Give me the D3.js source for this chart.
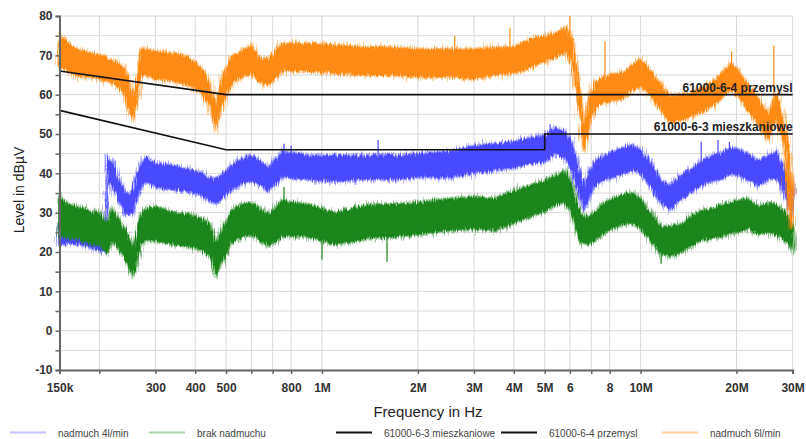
<!DOCTYPE html>
<html>
<head>
<meta charset="utf-8">
<script src="https://cdn.jsdelivr.net/npm/d3@7/dist/d3.min.js"></script>
<style>
  html, body { margin: 0; padding: 0; background: #fff; }
  svg { display: block; font-family: "Liberation Sans", Arial, sans-serif; }
</style>
</head>
<body>
<div id="viz"></div>
<script>
// sample frequencies (Hz) shared by the three measured spectra
const freqs = [150e3,155e3,160e3,170e3,180e3,190e3,200e3,209e3,212e3,220e3,230e3,240e3,248e3,255e3,262e3,270e3,280e3,300e3,
  340e3,380e3,420e3,445e3,465e3,485e3,520e3,560e3,600e3,640e3,680e3,750e3,900e3,1.1e6,1.4e6,1.7e6,2e6,2.5e6,3e6,3.5e6,
  4e6,4.5e6,5e6,5.4e6,5.8e6,6.1e6,6.3e6,6.5e6,6.65e6,6.9e6,7.2e6,7.7e6,8.2e6,8.8e6,9.4e6,10e6,10.7e6,11.6e6,12.4e6,
  13.4e6,14.4e6,15.5e6,16.7e6,17.9e6,19.3e6,20.2e6,21.7e6,23.4e6,25.2e6,26.7e6,28.4e6,29.3e6,29.7e6,30e6];

// nadmuch 6l/min (orange) - lower / upper edge of the noise band, dBuV
const orangeLo = [67,66.5,66,65,64.5,64.5,64,63.5,63.5,63,62,60,56,54,58,65,65,64,63.5,62.5,60.5,56.5,51.5,57,63,64.5,
  65.5,63,62.5,66,66,65.5,65,65,64.5,64.5,64,65,65.5,67,68.5,69.5,71,68,61,53,45.5,52,57,58,58.5,59,61,62,60,56,53,
  53.5,54.5,55.5,57,59,61.5,60,56,52.5,48.5,54,46,30,26,30];
const orangeHi = [75,74,73,71.5,71,70.5,70,69.5,69,68.5,68,66.5,63,59,64,71.5,71.5,71,70.5,69.5,66.5,62.5,57,64,69.5,71,
  72.5,69,69,73,73,72.5,72,72,71.5,71.5,71.5,72,72,74,75,75.5,77,74,67,59,51,59,63,64.5,65,65.5,67.5,69,66,62.5,59.5,
  60,60.5,61.5,63,65,68,66,62.5,59,55,60,52,45,36,40];

// nadmuch 4l/min (blue)
const blueLo = [22,22,22.5,22,21.5,21,20.5,20,38,37,33,30,29.5,30,33.5,36.5,38,36.5,36,35.5,34.5,33,32.5,33.5,36,37.5,
  38,37,35.5,39,38.5,38,38.5,38.5,39,39,40,41,41.5,42.5,43,45,44,40.5,36.5,33,31,34,37,38.5,39,40,41,40,37,32.5,31,
  33.5,35,37,38,38.5,40,39.5,38.5,37,38.5,39,34.5,31.5,30,30.5];
const blueHi = [27,27,27.5,26.5,26,26,25.5,25,44,43,38.5,35,34.5,36,39.5,42,44,42.5,42,41,40,38.5,38.5,39.5,42,43.5,
  44.5,43,41.5,45.5,44.5,44.5,44.5,44.5,45,45.5,47,47.5,48,49,49.5,51.5,50.5,47,43,39,36.5,40.5,43,44.5,45.5,46.5,47,
  46,43,38,37,39.5,41,43,44.5,45,46.5,46,45,43,44.5,45.5,40.5,37,35.5,36];

// brak nadmuchu (green)
const greenLo = [24,24,23.5,23.5,22.5,22,22,20,20,23,21,18.5,16,14,16.5,22,23,23,22,21.5,20.5,19,14.5,17.5,22.5,24,
  24.5,23,21.5,24,24,22,23.5,24,24.5,25.5,26,25.5,27.5,29,30.5,32,32.5,29.5,25.5,22.5,22,22,23,25,26,27,27.5,26,23,
  19.5,19,20,21.5,23,23.5,24,25,25,26,24.5,25,24.5,23,22,21,20.5];
const greenHi = [34,33,32,31.5,31,30,30,27.5,27.5,31,28.5,26,23.5,21,24,30,31,31.5,30,29.5,28.5,27,22,25.5,30.5,32,
  32.5,31,29.5,33,32,30,32,32,32.5,33.5,34,33.5,35.5,37,38,39.5,40.5,37,32.5,29.5,29,29,30,32.5,33.5,34.5,35,33.5,30,
  26.5,26.5,27,29,30.5,31,32,32.5,33,33.5,31.5,32.5,32,30,28.5,27.5,26.5];

// single spikes sticking out of the bands: [freq, from, to]
const orangeSpikes = [[2.61e6,71,75],[3.89e6,71.5,77],[6.0e6,75,80],[7.73e6,64,73.5],[19.3e6,67,71],[26.2e6,58,72.5]];
const blueSpikes = [[760e3,44,47.5],[800e3,44,47],[1.5e6,44,48.5],[5.2e6,50,52.5],[15.5e6,42,48],[17.5e6,44,48.5],[19e6,45,48]];
const greenSpikes = [[150e3,33,37.5],[760e3,32,36.5],[1e6,24,18],[1.6e6,24,17.5],[11.6e6,20,17]];

// limit lines
const limit63 = [[150e3,56],[500e3,46],[5e6,46],[5e6,50],[30e6,50]];
const limit64 = [[150e3,66],[500e3,60],[30e6,60]];

// axes
const xTickVals = [150e3,300e3,400e3,500e3,800e3,1e6,2e6,3e6,4e6,5e6,6e6,8e6,10e6,20e6,30e6];
const xTickLabels = ["150k","300","400","500","800","1M","2M","3M","4M","5M","6","8","10M","20M","30M"];
const xGridVals = [150e3,200e3,300e3,400e3,500e3,600e3,700e3,800e3,1e6,2e6,3e6,4e6,5e6,6e6,7e6,8e6,10e6,20e6,30e6];
const yTickVals = [-10,0,10,20,30,40,50,60,70,80];
const yGridVals = [-10,-5,0,5,10,15,20,25,30,35,40,45,50,55,60,65,70,75,80];

const legendItems = [
  { name: "nadmuch 4l/min", color: "#c4c4ff" },
  { name: "brak nadmuchu", color: "#a9d6a9" },
  { name: "61000-6-3 mieszkaniowe", color: "#111" },
  { name: "61000-6-4 przemysl", color: "#111" },
  { name: "nadmuch 6l/min", color: "#ffcf9e" }
];
const legendX = [10, 149, 336, 501, 662];

const width = 806, height = 439;
const plot = { left: 59.5, right: 792.6, top: 16, bottom: 370 };

const svg = d3.select('#viz').append('svg')
  .attr('width', width)
  .attr('height', height);

const x = d3.scaleLog().domain([150e3, 30e6]).range([plot.left, plot.right]);
const y = d3.scaleLinear().domain([-10, 80]).range([plot.bottom, plot.top]);

// texture filters for the noisy measurement bands
const defs = svg.append('defs');
function jitter(id, seed, freq, scale) {
  const f = defs.append('filter').attr('id', id)
    .attr('x', '-2%').attr('y', '-40%').attr('width', '104%').attr('height', '180%');
  f.append('feTurbulence').attr('type', 'fractalNoise').attr('baseFrequency', freq)
    .attr('numOctaves', 2).attr('seed', seed).attr('result', 'n');
  f.append('feDisplacementMap').attr('in', 'SourceGraphic').attr('in2', 'n')
    .attr('scale', scale).attr('xChannelSelector', 'R').attr('yChannelSelector', 'G');
}
jitter('jitter', 4, '0.9 0.06', 8);
jitter('fringe', 11, '1.2 0.04', 14);

// grid
const grid = svg.append('g');
grid.selectAll('.hg').data(yGridVals).enter().append('line')
  .attr('x1', plot.left).attr('x2', plot.right)
  .attr('y1', d => y(d)).attr('y2', d => y(d))
  .attr('stroke', '#d8d8d8').attr('stroke-width', 1);
grid.selectAll('.vg').data(xGridVals).enter().append('line')
  .attr('x1', d => x(d)).attr('x2', d => x(d))
  .attr('y1', plot.top).attr('y2', plot.bottom)
  .attr('stroke', '#d8d8d8').attr('stroke-width', 1);

// spectra bands
const idx = d3.range(freqs.length);
const series = [
  { lo: blueLo, hi: blueHi, spikes: blueSpikes, color: '#4a4aff' },
  { lo: greenLo, hi: greenHi, spikes: greenSpikes, color: '#1a861a' },
  { lo: orangeLo, hi: orangeHi, spikes: orangeSpikes, color: '#ff8a12' }
];

series.forEach(s => {
  const area = d3.area()
    .x(i => x(freqs[i]))
    .y0(i => y(s.lo[i]))
    .y1(i => y(s.hi[i]));
  // light fuzzy fringe
  svg.append('g').attr('filter', 'url(#fringe)')
    .append('path')
    .attr('d', area(idx))
    .attr('fill', s.color).attr('fill-opacity', 0.35)
    .attr('stroke', s.color).attr('stroke-opacity', 0.3)
    .attr('stroke-width', 4);
  // dense core
  svg.append('g').attr('filter', 'url(#jitter)')
    .append('path')
    .attr('d', area(idx))
    .attr('fill', s.color)
    .attr('stroke', s.color)
    .attr('stroke-opacity', 0.45)
    .attr('stroke-width', 2.5);
  svg.append('g').selectAll('line').data(s.spikes).enter().append('line')
    .attr('x1', d => x(d[0])).attr('x2', d => x(d[0]))
    .attr('y1', d => y(d[1])).attr('y2', d => y(d[2]))
    .attr('stroke', s.color).attr('stroke-width', 1.2);
});

// limit lines
const limLine = d3.line().x(d => x(d[0])).y(d => y(d[1]));
[limit63, limit64].forEach(l => {
  svg.append('path').attr('d', limLine(l))
    .attr('fill', 'none').attr('stroke', '#111').attr('stroke-width', 1.6);
});

svg.append('text').attr('x', plot.right).attr('y', y(60) - 3)
  .attr('text-anchor', 'end').attr('font-size', 12).attr('font-weight', 'bold').attr('fill', '#222')
  .text('61000-6-4 przemysl');
svg.append('text').attr('x', plot.right).attr('y', y(50) - 3)
  .attr('text-anchor', 'end').attr('font-size', 12).attr('font-weight', 'bold').attr('fill', '#222')
  .text('61000-6-3 mieszkaniowe');

// axes
const yAxis = svg.append('g')
  .attr('transform', `translate(${plot.left},0)`)
  .call(d3.axisLeft(y).tickValues(yGridVals).tickSize(4).tickPadding(3)
    .tickFormat(d => yTickVals.includes(d) ? d : ''));
const xAxis = svg.append('g')
  .attr('transform', `translate(0,${plot.bottom})`)
  .call(d3.axisBottom(x).tickValues(xGridVals).tickSize(4).tickPadding(9)
    .tickFormat(d => {
      const k = xTickVals.indexOf(d);
      return k >= 0 ? xTickLabels[k] : '';
    }));

[yAxis, xAxis].forEach(a => {
  a.select('.domain').attr('stroke', '#666').attr('stroke-width', 2);
  a.selectAll('.tick line').attr('stroke', '#666').attr('stroke-width', 1.5);
  a.selectAll('.tick text')
    .attr('font-family', '"Liberation Sans", Arial, sans-serif')
    .attr('font-size', 12).attr('font-weight', 'bold').attr('fill', '#333');
});

// axis titles
svg.append('text')
  .attr('transform', `translate(24,190) rotate(-90)`)
  .attr('text-anchor', 'middle').attr('font-size', 14).attr('fill', '#222')
  .text('Level in dBµV');
svg.append('text')
  .attr('x', 428).attr('y', 417)
  .attr('text-anchor', 'middle').attr('font-size', 15).attr('fill', '#222')
  .text('Frequency in Hz');

// legend
const legend = svg.append('g');
legendItems.forEach((item, i) => {
  const lx = legendX[i];
  legend.append('line')
    .attr('x1', lx).attr('x2', lx + 36)
    .attr('y1', 432.5).attr('y2', 432.5)
    .attr('stroke', item.color).attr('stroke-width', 2);
  legend.append('text')
    .attr('x', lx + 48).attr('y', 436.5)
    .attr('font-size', 10).attr('fill', '#444')
    .text(item.name);
});
</script>
</body>
</html>
